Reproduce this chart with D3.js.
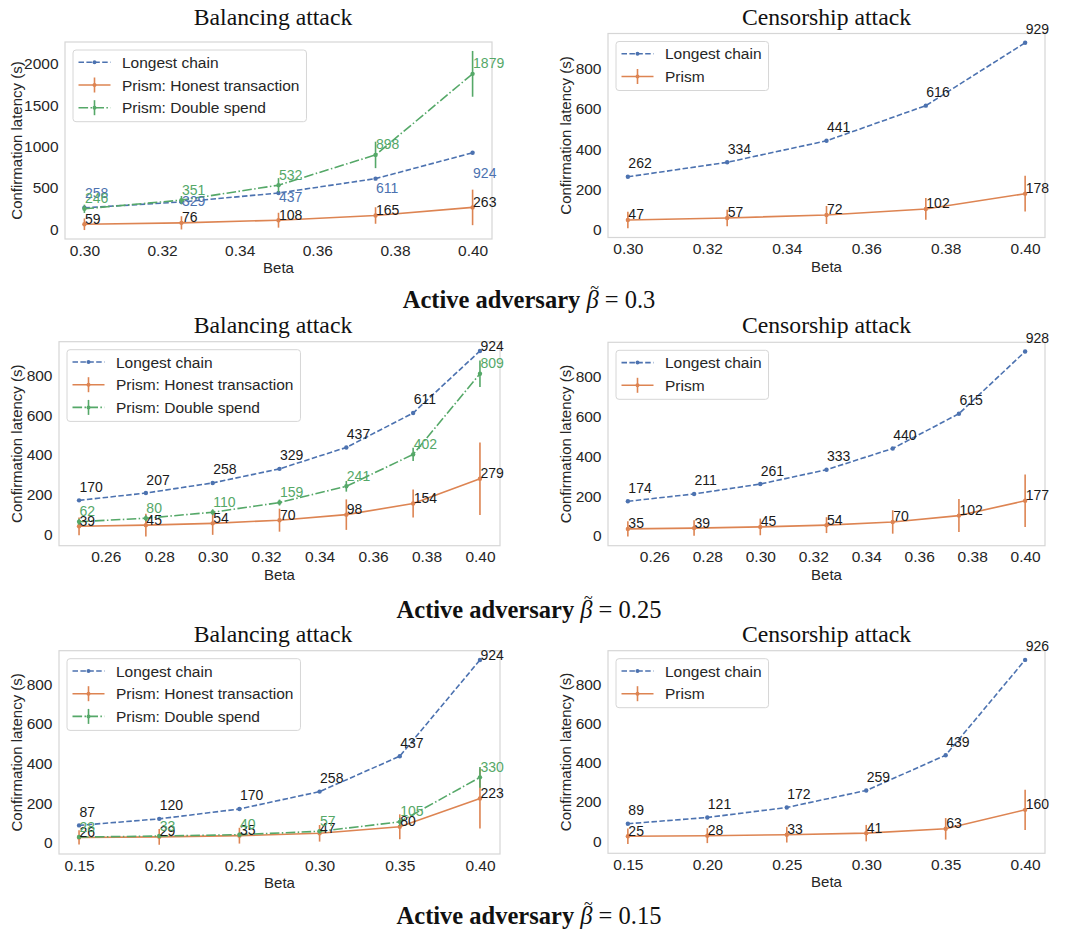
<!DOCTYPE html>
<html><head><meta charset="utf-8">
<script src="https://cdn.jsdelivr.net/npm/d3@7"></script>
<style>body{margin:0;background:#fff}</style>
</head><body>
<svg id="c" width="1065" height="936" xmlns="http://www.w3.org/2000/svg"></svg>
<script>
// ---------------- data ----------------
const beta030 = [0.30, 0.325, 0.35, 0.375, 0.40];
const beta025 = [0.25, 0.275, 0.30, 0.325, 0.35, 0.375, 0.40];
const beta015 = [0.15, 0.20, 0.25, 0.30, 0.35, 0.40];

// Active adversary beta~ = 0.3
const bal030Longest = [258, 329, 437, 611, 924];
const bal030LongestLabelAt = [382, 281, 331, 434, 623];
const bal030Honest = [59, 76, 108, 165, 263];
const bal030HonestErr = [70, 80, 90, 100, 215];
const bal030Double = [246, 351, 532, 898, 1879];
const bal030DoubleErr = [50, 50, 85, 160, 277];
const cen030Longest = [262, 334, 441, 616, 929];
const cen030Prism = [47, 57, 72, 102, 178];
const cen030PrismErr = [41, 41, 45, 54, 89];

// Active adversary beta~ = 0.25
const bal025Longest = [170, 207, 258, 329, 437, 611, 924];
const bal025Honest = [39, 45, 54, 70, 98, 154, 279];
const bal025HonestErr = [45, 57, 58, 58, 77, 71, 183];
const bal025Double = [62, 80, 110, 159, 241, 402, 809];
const bal025DoubleErr = [15, 15, 15, 15, 27, 33, 67];
const cen025Longest = [174, 211, 261, 333, 440, 615, 928];
const cen025Prism = [35, 39, 45, 54, 70, 102, 177];
const cen025PrismErr = [38, 39, 42, 40, 59, 83, 132];

// Active adversary beta~ = 0.15
const bal015Longest = [87, 120, 170, 258, 437, 924];
const bal015Honest = [26, 29, 35, 47, 80, 223];
const bal015HonestErr = [36, 40, 40, 42, 63, 152];
const bal015Double = [28, 33, 40, 57, 105, 330];
const bal015DoubleErr = [10, 10, 10, 10, 20, 52];
const cen015Longest = [89, 121, 172, 259, 439, 926];
const cen015Prism = [25, 28, 33, 41, 63, 160];
const cen015PrismErr = [40, 38, 40, 42, 55, 103];

const xTicks030 = [0.30, 0.32, 0.34, 0.36, 0.38, 0.40];
const xTicks025 = [0.26, 0.28, 0.30, 0.32, 0.34, 0.36, 0.38, 0.40];
const xTicks015 = [0.15, 0.20, 0.25, 0.30, 0.35, 0.40];
const yTicksLarge = [0, 500, 1000, 1500, 2000];
const yTicksSmall = [0, 200, 400, 600, 800];

const panelTitles = ["Balancing attack", "Censorship attack"];
const rowAdversary = ["0.3", "0.25", "0.15"];
const seriesNames = {
  longest: "Longest chain",
  honest: "Prism: Honest transaction",
  double: "Prism: Double spend",
  prism: "Prism"
};
const xLabel = "Beta";
const yLabel = "Confirmation latency (s)";

// ---------------- styles ----------------
const C = { longest: "#4c72b0", honest: "#dd8452", double: "#55a868" };
const SANS = "'Liberation Sans', Arial, 'DejaVu Sans', sans-serif";
const SERIF = "'Liberation Serif', 'Times New Roman', 'DejaVu Serif', serif";
const TXT = "#262626";

const svg = d3.select("#c");

function mkSeries(kind, name, values, err, color, dash, labelColor, labelAt) {
  return { kind, name, values, err, color, dash, labelColor, labelAt };
}
const DASH = "5.5,2.4";
const DASHDOT = "9.6,2.4,1.5,2.4";

const panels = [
  { row: 0, col: 0, x: beta030, xTicks: xTicks030, yTicks: yTicksLarge, xfmt: ".2f",
    box: { l: 65, r: 492, t: 42, b: 239 },
    series: [
      mkSeries("longest", seriesNames.longest, bal030Longest, null, C.longest, DASH, C.longest, bal030LongestLabelAt),
      mkSeries("honest", seriesNames.honest, bal030Honest, bal030HonestErr, C.honest, null, "#1a1a1a"),
      mkSeries("double", seriesNames.double, bal030Double, bal030DoubleErr, C.double, DASHDOT, C.double)
    ], balancing: true },
  { row: 0, col: 1, x: beta030, xTicks: xTicks030, yTicks: yTicksSmall, xfmt: ".2f",
    box: { l: 608, r: 1045, t: 33.5, b: 237.5 },
    series: [
      mkSeries("longest", seriesNames.longest, cen030Longest, null, C.longest, DASH, "#1a1a1a"),
      mkSeries("honest", seriesNames.prism, cen030Prism, cen030PrismErr, C.honest, null, "#1a1a1a")
    ] },
  { row: 1, col: 0, x: beta025, xTicks: xTicks025, yTicks: yTicksSmall, xfmt: ".2f",
    box: { l: 59, r: 500, t: 341.7, b: 545.7 },
    series: [
      mkSeries("longest", seriesNames.longest, bal025Longest, null, C.longest, DASH, "#1a1a1a"),
      mkSeries("honest", seriesNames.honest, bal025Honest, bal025HonestErr, C.honest, null, "#1a1a1a"),
      mkSeries("double", seriesNames.double, bal025Double, bal025DoubleErr, C.double, DASHDOT, C.double)
    ], balancing: true },
  { row: 1, col: 1, x: beta025, xTicks: xTicks025, yTicks: yTicksSmall, xfmt: ".2f",
    box: { l: 608, r: 1045, t: 342.3, b: 545.7 },
    series: [
      mkSeries("longest", seriesNames.longest, cen025Longest, null, C.longest, DASH, "#1a1a1a"),
      mkSeries("honest", seriesNames.prism, cen025Prism, cen025PrismErr, C.honest, null, "#1a1a1a")
    ] },
  { row: 2, col: 0, x: beta015, xTicks: xTicks015, yTicks: yTicksSmall, xfmt: ".2f",
    box: { l: 59, r: 500, t: 650.7, b: 854 },
    series: [
      mkSeries("longest", seriesNames.longest, bal015Longest, null, C.longest, DASH, "#1a1a1a"),
      mkSeries("honest", seriesNames.honest, bal015Honest, bal015HonestErr, C.honest, null, "#1a1a1a"),
      mkSeries("double", seriesNames.double, bal015Double, bal015DoubleErr, C.double, DASHDOT, C.double)
    ], balancing: true },
  { row: 2, col: 1, x: beta015, xTicks: xTicks015, yTicks: yTicksSmall, xfmt: ".2f",
    box: { l: 608, r: 1045, t: 650.7, b: 853.3 },
    series: [
      mkSeries("longest", seriesNames.longest, cen015Longest, null, C.longest, DASH, "#1a1a1a"),
      mkSeries("honest", seriesNames.prism, cen015Prism, cen015PrismErr, C.honest, null, "#1a1a1a")
    ] }
];

const titleBaseline = [25, 333, 642];
const titleCenterX = [273, 826.5];
const ylabelX = [16.5, 565.5];
const suptitleBaseline = [308, 618, 924];

function padded(lo, hi) { const p = (hi - lo) * 0.05; return [lo - p, hi + p]; }

panels.forEach(p => {
  const g = svg.append("g");
  const B = p.box;
  const xd = padded(d3.min(p.x), d3.max(p.x));
  let lo = Infinity, hi = -Infinity;
  p.series.forEach(s => s.values.forEach((v, i) => {
    const e = s.err ? s.err[i] : 0;
    lo = Math.min(lo, v - e); hi = Math.max(hi, v + e);
  }));
  const x = d3.scaleLinear().domain(xd).range([B.l, B.r]);
  const y = d3.scaleLinear().domain(padded(lo, hi)).range([B.b, B.t]);

  // frame
  g.append("rect").attr("x", B.l).attr("y", B.t).attr("width", B.r - B.l).attr("height", B.b - B.t)
    .attr("fill", "#fff").attr("stroke", "#d6d6d6").attr("stroke-width", 1.2);

  // axes
  const ax = g.append("g").attr("transform", `translate(${B.l},0)`)
    .call(d3.axisLeft(y).tickValues(p.yTicks).tickFormat(d3.format("d")).tickSize(0).tickPadding(6.5));
  ax.select(".domain").remove();
  ax.selectAll("text").attr("font-family", SANS).attr("font-size", 15.5).attr("fill", TXT);
  const bx = g.append("g").attr("transform", `translate(0,${B.b})`)
    .call(d3.axisBottom(x).tickValues(p.xTicks).tickFormat(d3.format(p.xfmt)).tickSize(0).tickPadding(5.5));
  bx.select(".domain").remove();
  bx.selectAll("text").attr("font-family", SANS).attr("font-size", 15.5).attr("fill", TXT);

  // axis labels
  g.append("text").attr("x", (B.l + B.r) / 2).attr("y", B.b + 34).attr("text-anchor", "middle")
    .attr("font-family", SANS).attr("font-size", 15).attr("fill", TXT).text(xLabel);
  g.append("text").attr("transform", `translate(${ylabelX[p.col]},${(B.t + B.b) / 2}) rotate(-90)`)
    .attr("text-anchor", "middle").attr("dy", "0.35em")
    .attr("font-family", SANS).attr("font-size", 15).attr("fill", TXT).text(yLabel);

  // title
  g.append("text").attr("x", titleCenterX[p.col]).attr("y", titleBaseline[p.row]).attr("text-anchor", "middle")
    .attr("font-family", SERIF).attr("font-size", 23.7).attr("fill", "#111").text(panelTitles[p.col]);

  // series
  const line = d3.line().x((d, i) => x(p.x[i])).y(d => y(d));
  p.series.forEach(s => {
    const sg = g.append("g");
    sg.append("path").datum(s.values).attr("d", line).attr("fill", "none")
      .attr("stroke", s.color).attr("stroke-width", 1.6)
      .attr("stroke-dasharray", s.dash || null);
    if (s.err) {
      sg.selectAll("line.err").data(s.values).enter().append("line")
        .attr("x1", (d, i) => x(p.x[i])).attr("x2", (d, i) => x(p.x[i]))
        .attr("y1", (d, i) => y(d - s.err[i])).attr("y2", (d, i) => y(d + s.err[i]))
        .attr("stroke", s.color).attr("stroke-width", 1.6);
    }
    sg.selectAll("circle").data(s.values).enter().append("circle")
      .attr("cx", (d, i) => x(p.x[i])).attr("cy", d => y(d)).attr("r", 2.2).attr("fill", s.color);
  });

  // annotations
  p.series.forEach(s => {
    const n = s.values.length;
    g.append("g").selectAll("text").data(s.values).enter().append("text")
      .attr("x", (d, i) => x(p.x[i]) + 0.5)
      .attr("y", (d, i) => {
        if (s.labelAt) return y(s.labelAt[i]);
        if (s.kind === "longest") return y(d) - ((p.balancing && i === n - 1) ? 0 : 8.5);
        if (s.kind === "double") return y(d) - 5.5;
        return y(d) - 0.5;
      })
      .attr("font-family", SANS).attr("font-size", 14).attr("fill", s.labelColor)
      .text(d => d);
  });

  // legend
  const lg = g.append("g").attr("transform", `translate(${B.l + 8},${B.t + 8})`);
  const frame = lg.append("rect");
  const rowH = 22.7, first = 12.3;
  let maxW = 0;
  p.series.forEach((s, i) => {
    const cy = first + i * rowH;
    lg.append("line").attr("x1", 5.5).attr("x2", 37.5).attr("y1", cy).attr("y2", cy)
      .attr("stroke", s.color).attr("stroke-width", 1.6).attr("stroke-dasharray", s.dash || null);
    if (s.err) {
      lg.append("line").attr("x1", 21.5).attr("x2", 21.5).attr("y1", cy - 7.5).attr("y2", cy + 7.5)
        .attr("stroke", s.color).attr("stroke-width", 1.6);
    }
    lg.append("circle").attr("cx", 21.5).attr("cy", cy).attr("r", 2).attr("fill", s.color);
    const t = lg.append("text").attr("x", 49).attr("y", cy).attr("dy", "0.36em")
      .attr("font-family", SANS).attr("font-size", 15.5).attr("fill", TXT).text(s.name);
    maxW = Math.max(maxW, t.node().getComputedTextLength());
  });
  frame.attr("x", 0).attr("y", 0).attr("width", 49 + maxW + 7)
    .attr("height", first + (p.series.length - 1) * rowH + 14)
    .attr("rx", 3).attr("fill", "#fff").attr("fill-opacity", 0.85)
    .attr("stroke", "#d6d6d6").attr("stroke-width", 1);
});

// row super-titles: "Active adversary β̃ = v"
rowAdversary.forEach((v, r) => {
  const t = svg.append("text").attr("x", 529).attr("y", suptitleBaseline[r]).attr("text-anchor", "middle")
    .attr("font-family", SERIF).attr("font-size", 24.5).attr("fill", "#111");
  const head = "Active adversary ";
  t.append("tspan").attr("font-weight", "bold").text(head);
  t.append("tspan").attr("font-style", "italic").text("\u03B2");
  t.append("tspan").text(" = " + v);
  const ext = t.node().getExtentOfChar(head.length);
  svg.append("text").attr("x", ext.x + ext.width / 2 + 2).attr("y", suptitleBaseline[r] - 15)
    .attr("text-anchor", "middle").attr("font-family", SERIF).attr("font-size", 16).attr("fill", "#111")
    .text("~");
});
</script>
</body></html>
